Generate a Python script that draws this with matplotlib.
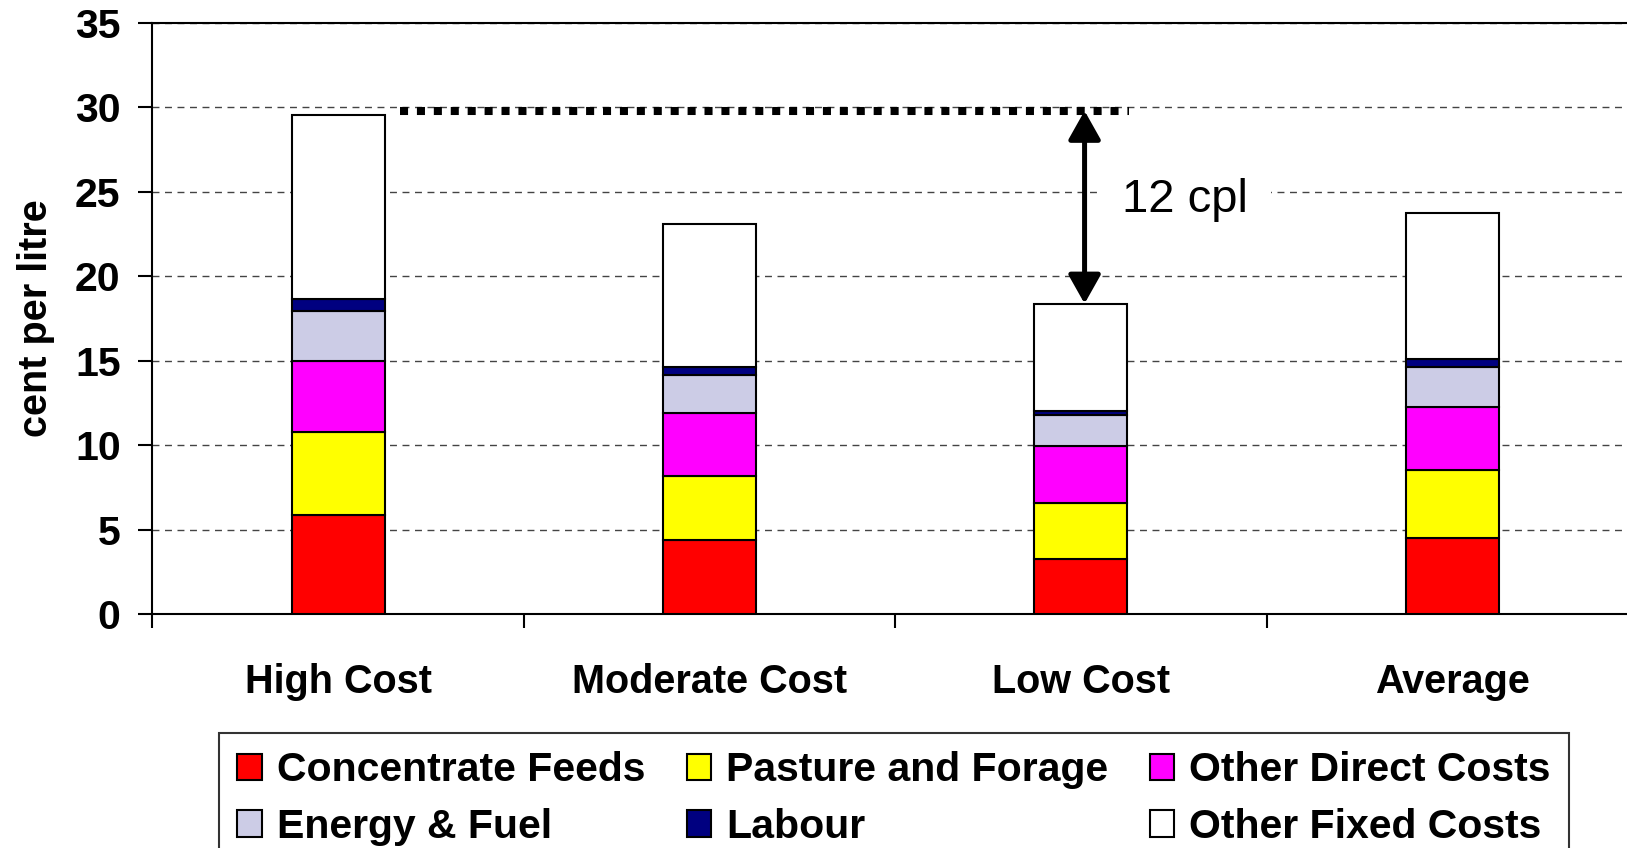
import numpy as np
import matplotlib
matplotlib.use("Agg")
import matplotlib.pyplot as plt
from matplotlib.patches import Patch

plt.rcParams['font.family'] = ['Liberation Sans', 'DejaVu Sans']

# data (cent per litre)
farms = ['High Cost', 'Moderate Cost', 'Low Cost', 'Average']
conc_feeds = [5.87, 4.40, 3.27, 4.52]
pasture = [4.91, 3.77, 3.30, 3.98]
other_direct = [4.21, 3.74, 3.39, 3.75]
energy = [2.95, 2.25, 1.84, 2.39]
labour = [0.70, 0.48, 0.25, 0.47]
other_fixed = [10.90, 8.44, 6.33, 8.64]

series_names = ['Concentrate Feeds', 'Pasture and Forage', 'Other Direct Costs',
                'Energy & Fuel', 'Labour', 'Other Fixed Costs']
series_vals = [conc_feeds, pasture, other_direct, energy, labour, other_fixed]
colors = ['#FF0000', '#FFFF00', '#FF00FF', '#CCCCE6', '#000080', '#FFFFFF']

ref_level = 29.8      # dotted reference line
gap_label = '12 cpl'

fig = plt.figure(figsize=(16.27, 8.48), dpi=100)
ax = fig.add_axes([0.0937, 0.2759, 0.913, 0.697])

x = np.arange(len(farms))
bottom = np.zeros(len(farms))
handles = []
for name, vals, c in zip(series_names, series_vals, colors):
    ax.bar(x, vals, 0.25, bottom=bottom, color=c, edgecolor='black', linewidth=1.5, zorder=3)
    bottom += np.array(vals)
    handles.append(Patch(facecolor=c, edgecolor='black', linewidth=1.5, label=name))
totals = bottom

ax.set_xlim(-0.5, 3.5)
ax.set_ylim(0, 35)
ax.set_yticks(np.arange(0, 36, 5))
ax.yaxis.grid(True, linestyle=(0, (5, 4)), color='#444444', linewidth=1.0, zorder=0)

ax.set_xticks([-0.5, 0.5, 1.5, 2.5, 3.5])
ax.set_xticklabels([])
ax.set_xticks(x, minor=True)
ax.set_xticklabels(farms, minor=True, fontsize=28.5, fontweight='bold')
ax.tick_params(axis='x', which='major', direction='out', length=10, width=1.5)
ax.tick_params(axis='x', which='minor', length=0, pad=35)
ax.tick_params(axis='y', direction='out', length=10, width=1.5, pad=13, labelsize=29.5)
for lab in ax.get_yticklabels():
    lab.set_fontweight('bold')

for s in ['left', 'bottom', 'top']:
    ax.spines[s].set_linewidth(1.5)
ax.spines['right'].set_visible(False)

ax.set_ylabel('cent per litre', fontsize=28.5, fontweight='bold', labelpad=14)

# dotted level line and gap arrow
ax.plot([0.166, 2.13], [ref_level, ref_level], color='black', linewidth=5.8,
        linestyle=(0, (1.0, 1.1)), zorder=4)
ax.annotate('', xy=(2.01, totals[2]), xytext=(2.01, ref_level),
            arrowprops=dict(arrowstyle='<|-|>,head_length=0.8,head_width=0.45',
                            mutation_scale=22, color='black', lw=3.6,
                            shrinkA=0, shrinkB=0), zorder=5)
ax.text(2.11, 24.5, gap_label, fontsize=34, va='center', ha='left', zorder=4,
        bbox=dict(boxstyle='square,pad=0.5', facecolor='white', edgecolor='none'))

# legend, filled row by row
order = [0, 3, 1, 4, 2, 5]
leg = fig.legend([handles[i] for i in order], [series_names[i] for i in order],
                 ncol=3, loc='upper left', bbox_to_anchor=(0.1346, 0.0, 0.8297, 0.1356),
                 mode='expand', prop=dict(size=29.5, weight='bold'),
                 handlelength=0.6, handleheight=0.62, handletextpad=0.36,
                 labelspacing=0.45, borderpad=0.45, borderaxespad=0,
                 frameon=True, fancybox=False, edgecolor='black')
leg.get_frame().set_linewidth(1.5)

fig.savefig('out.png', dpi=100)
